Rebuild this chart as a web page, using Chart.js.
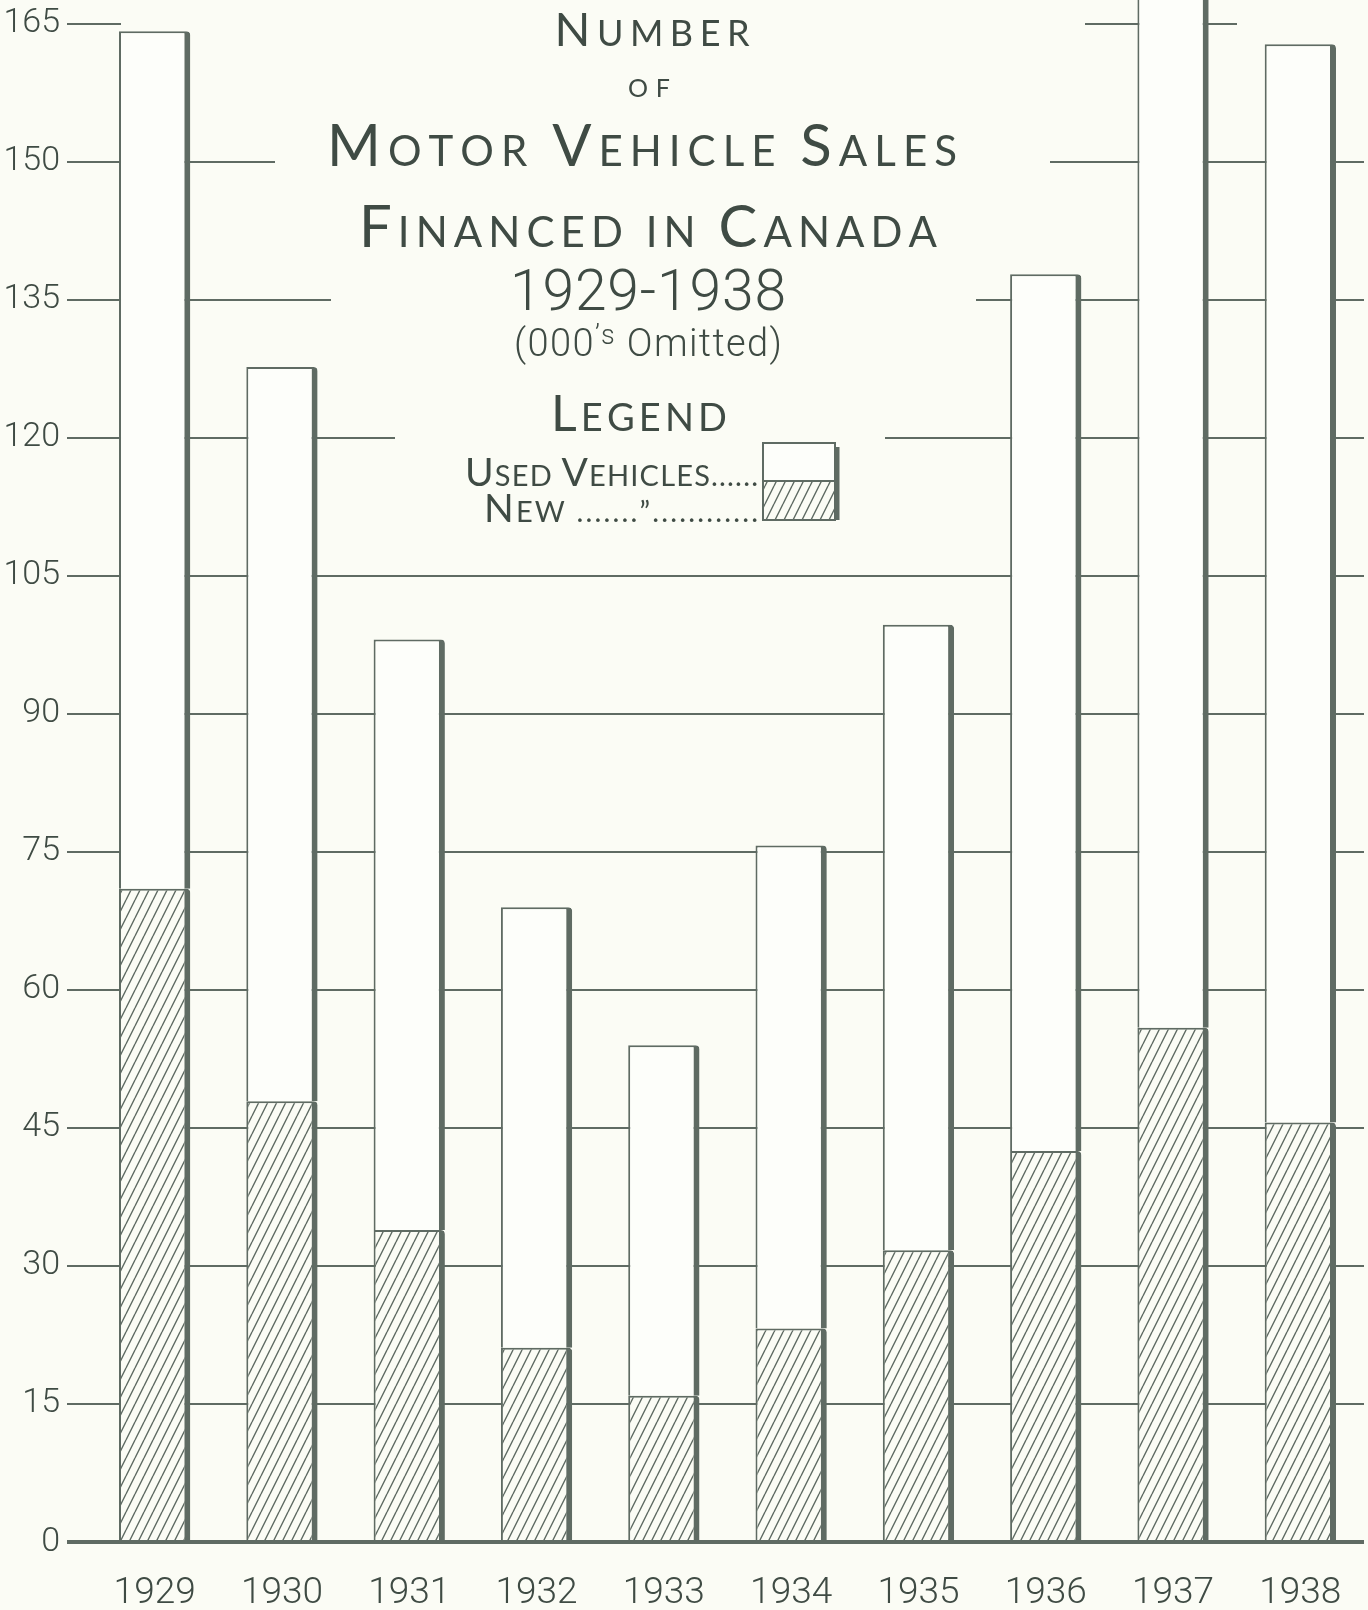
<!DOCTYPE html>
<html>
<head>
<meta charset="utf-8">
<title>Number of Motor Vehicle Sales Financed in Canada 1929-1938</title>
<script src="https://cdn.jsdelivr.net/npm/chart.js@4.4.0/dist/chart.umd.min.js"></script>
<style>
  html, body { margin: 0; padding: 0; background: #fbfcf5; }
  canvas { display: block; }
</style>
</head>
<body>
<canvas id="salesChart" width="1368" height="1610"></canvas>
<script>
// values in thousands
const years = ["1929", "1930", "1931", "1932", "1933", "1934", "1935", "1936", "1937", "1938"];
const newVehicles = [71.0, 47.9, 33.9, 21.1, 15.9, 23.2, 31.7, 42.5, 55.9, 45.6];
const usedVehicles = [93.2, 79.8, 64.2, 47.9, 38.1, 52.5, 68.0, 95.3, 122.0, 117.2];
const yTicks = [0, 15, 30, 45, 60, 75, 90, 105, 120, 135, 150, 165];
const yMax = 167.6;

const paper = "#fbfcf5";
const ink = "#3f4b44";
const rule = "#5f6b63";
const thin = "Roboto, 'DejaVu Sans Condensed', sans-serif";
const lettering = "Lato, 'Noto Sans', sans-serif";

// diagonal hatching for new vehicles
function makeHatch() {
  const tile = document.createElement("canvas");
  tile.width = 9;
  tile.height = 18;
  const g = tile.getContext("2d");
  g.fillStyle = paper;
  g.fillRect(0, 0, 9, 18);
  g.strokeStyle = rule;
  g.lineWidth = 1.4;
  g.beginPath();
  for (let k = -1; k <= 1; k++) {
    g.moveTo(k * 9, 18);
    g.lineTo(k * 9 + 9, 0);
  }
  g.stroke();
  return g.createPattern(tile, "repeat");
}
const hatch = makeHatch();

// text helpers: spread glyphs so a line fills a given width
function drawRuns(ctx, runs, anchorX, baseline, width, align) {
  const glyphs = [];
  runs.forEach((r) =>
    [...r.t].forEach((ch) =>
      glyphs.push({ ch, font: `${r.weight || 400} ${r.size}px ${r.family}`, dy: r.dy || 0 })
    )
  );
  glyphs.forEach((g) => {
    ctx.font = g.font;
    g.w = ctx.measureText(g.ch).width;
  });
  const natural = glyphs.reduce((s, g) => s + g.w, 0);
  const gap = glyphs.length > 1 ? (width - natural) / (glyphs.length - 1) : 0;
  let x = align === "right" ? anchorX - width : anchorX - width / 2;
  ctx.textAlign = "left";
  ctx.textBaseline = "alphabetic";
  glyphs.forEach((g) => {
    ctx.font = g.font;
    ctx.fillText(g.ch, x, baseline + g.dy);
    x += g.w + gap;
  });
}
function capsRuns(text, big, small, family) {
  return [...text].map((ch) => ({
    t: ch.toUpperCase(),
    size: ch !== ch.toLowerCase() ? big : small,
    family,
  }));
}

// area behind the title where the rulings are left out
const titleMask = [
  [121, 0], [1085, 0], [1085, 95], [1050, 105], [1050, 235], [976, 245], [976, 375],
  [885, 385], [885, 522], [395, 522], [395, 375], [331, 365], [331, 240], [275, 230],
  [275, 100], [121, 90],
];

const paperPlugin = {
  id: "paper",
  beforeDraw(chart) {
    const ctx = chart.ctx;
    ctx.save();
    ctx.fillStyle = paper;
    ctx.fillRect(0, 0, chart.width, chart.height);
    ctx.restore();
  },
  beforeDatasetsDraw(chart) {
    const ctx = chart.ctx;
    ctx.save();
    ctx.fillStyle = paper;
    ctx.beginPath();
    titleMask.forEach(([x, y], i) => (i ? ctx.lineTo(x, y) : ctx.moveTo(x, y)));
    ctx.closePath();
    ctx.fill();
    ctx.fillRect(1237, 0, chart.width - 1237, 60);
    ctx.restore();
  },
  afterDatasetsDraw(chart) {
    const ctx = chart.ctx;
    ctx.save();
    ctx.fillStyle = ink;
    drawRuns(ctx, capsRuns("Number", 47, 36, lettering), 652, 46, 195);
    drawRuns(ctx, capsRuns("of", 25, 25, lettering), 649, 97, 42);
    drawRuns(ctx, capsRuns("Motor Vehicle Sales", 58, 42, lettering), 642, 166, 630);
    drawRuns(ctx, capsRuns("Financed in Canada", 58, 42, lettering), 648, 247, 578);
    drawRuns(ctx, [{ t: "1929-1938", size: 57, family: thin, weight: 300 }], 648, 310, 276);
    drawRuns(
      ctx,
      [
        { t: "(000", size: 38, family: thin, weight: 300 },
        { t: "’s", size: 27, family: thin, weight: 300, dy: -12 },
        { t: " Omitted)", size: 38, family: thin, weight: 300 },
      ],
      648, 356, 268
    );
    drawRuns(ctx, capsRuns("Legend", 50, 38, lettering), 639, 431, 176);

    const [newDs, usedDs] = chart.data.datasets;
    drawRuns(ctx, capsRuns(usedDs.label + "......", 39, 29, lettering), 758, 486, 293, "right");
    drawRuns(ctx, capsRuns(newDs.label + " .......”............", 39, 29, lettering), 758, 522, 274, "right");

    // legend key, same look as a bar
    const bx = 763, bw = 76, top = 443, mid = 481, bottom = 520;
    ctx.fillStyle = usedDs.backgroundColor;
    ctx.fillRect(bx, top, bw, mid - top);
    ctx.fillStyle = newDs.backgroundColor;
    ctx.fillRect(bx, mid, bw, bottom - mid);
    ctx.strokeStyle = rule;
    ctx.lineWidth = 2;
    ctx.strokeRect(bx, top, bw - 4, bottom - top);
    ctx.beginPath();
    ctx.moveTo(bx, mid);
    ctx.lineTo(bx + bw - 4, mid);
    ctx.stroke();
    ctx.lineWidth = 5;
    ctx.beginPath();
    ctx.moveTo(bx + bw - 2, top + 4);
    ctx.lineTo(bx + bw - 2, bottom);
    ctx.stroke();
    ctx.restore();
  },
};

const barStyle = {
  borderColor: rule,
  borderWidth: { left: 2, top: 2, right: 6, bottom: 0 },
  borderSkipped: false,
  borderRadius: { topRight: 4, topLeft: 0, bottomLeft: 0, bottomRight: 0 },
  barPercentage: 0.56,
  categoryPercentage: 1.0,
};

new Chart(document.getElementById("salesChart"), {
  type: "bar",
  data: {
    labels: years,
    datasets: [
      { label: "New", data: newVehicles, backgroundColor: hatch, ...barStyle },
      { label: "Used Vehicles", data: usedVehicles, backgroundColor: "#fdfefa", ...barStyle },
    ],
  },
  options: {
    responsive: false,
    animation: false,
    devicePixelRatio: 1,
    layout: { padding: { top: 0, right: 4, bottom: 0, left: 0 } },
    plugins: {
      legend: { display: false },
      title: { display: false },
      tooltip: { enabled: false },
    },
    scales: {
      x: {
        stacked: true,
        grid: { display: false },
        border: { display: false },
        ticks: {
          color: ink,
          font: { family: thin, size: 37, weight: 300 },
          padding: 22,
          maxRotation: 0,
        },
        afterFit: (scale) => {
          scale.height = 68;
          scale.paddingLeft = 0;
          scale.paddingRight = 0;
        },
      },
      y: {
        stacked: true,
        min: 0,
        max: yMax,
        border: { display: false },
        grid: {
          color: rule,
          lineWidth: (c) => (c.tick && c.tick.value === 0 ? 4 : 2),
          drawTicks: true,
          tickLength: 24,
        },
        ticks: {
          color: ink,
          font: { family: thin, size: 34, weight: 300 },
          padding: 7,
        },
        afterBuildTicks: (scale) => {
          scale.ticks = yTicks.map((v) => ({ value: v }));
        },
        afterFit: (scale) => {
          scale.width = 91;
          scale.paddingTop = 0;
          scale.paddingBottom = 0;
        },
      },
    },
  },
  plugins: [paperPlugin],
});
</script>
</body>
</html>
